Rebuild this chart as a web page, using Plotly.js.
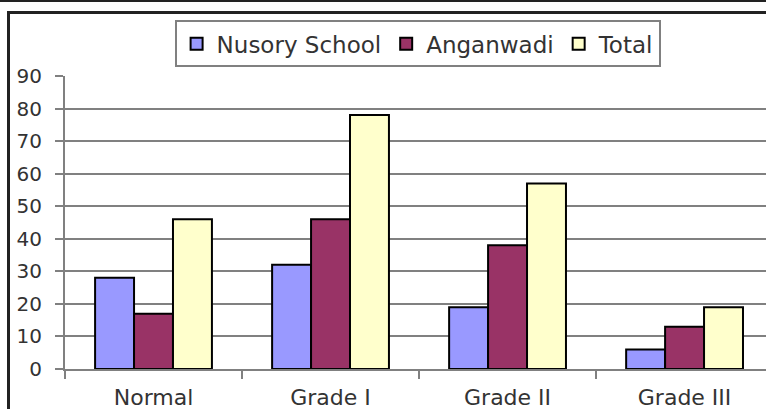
<!DOCTYPE html>
<html>
<head>
<meta charset="utf-8">
<script src="https://cdn.plot.ly/plotly-3.0.1.min.js"></script>
<style>
  html, body { margin: 0; padding: 0; background: #fff; }
  #wrap { position: relative; width: 766px; height: 409px; overflow: hidden; }
  #chart { position: absolute; left: 0; top: 0; width: 766px; height: 409px; }
  .topline { position: absolute; left: 0; top: 0; width: 766px; height: 2px; background: #222; pointer-events: none; }
  .frame { position: absolute; left: 7px; top: 11px; width: 770px; height: 410px; border-left: 3px solid #222; border-top: 3px solid #222; pointer-events: none; }
</style>
</head>
<body>
<div id="wrap">
  <div id="chart"></div>
  <div class="topline"></div>
  <div class="frame"></div>
</div>
<script>
const categories = ["Normal", "Grade I", "Grade II", "Grade III"];
const seriesNames = ["Nusory School", "Anganwadi", "Total"];
const nurserySchool = [28, 32, 19, 6];
const anganwadi = [17, 46, 38, 13];
const total = [46, 78, 57, 19];
const yTicks = [0, 10, 20, 30, 40, 50, 60, 70, 80, 90];

const colors = ["#9999FF", "#993366", "#FFFFCC"];
const seriesValues = [nurserySchool, anganwadi, total];

const traces = seriesValues.map((vals, i) => ({
  type: "bar",
  name: seriesNames[i],
  x: categories,
  y: vals,
  marker: { color: colors[i], line: { color: "#000", width: 2 } },
  hoverinfo: "x+y+name"
}));

const fam = "DejaVu Sans, Verdana, sans-serif";
const xFont = { family: fam, size: 22, color: "#333" };
const yFont = { family: fam, size: 20, color: "#333" };

const layout = {
  width: 766,
  height: 409,
  margin: { l: 65, r: 0, t: 76, b: 40 },
  paper_bgcolor: "#fff",
  plot_bgcolor: "#fff",
  font: xFont,
  barmode: "group",
  bargap: 0.34,
  bargroupgap: 0,
  showlegend: true,
  legend: {
    orientation: "h",
    x: 0.503, xanchor: "center",
    y: 1.19, yanchor: "top",
    bordercolor: "#808080", borderwidth: 2,
    bgcolor: "#fff",
    font: { family: fam, size: 23, color: "#333" },
    itemwidth: 30,
    traceorder: "normal"
  },
  xaxis: {
    type: "category",
    range: [-0.5, 3.46],
    showgrid: false,
    showline: true, linecolor: "#808080", linewidth: 2,
    ticks: "outside", ticklen: 8, tickcolor: "#808080", tickwidth: 2,
    tickson: "boundaries",
    ticklabelstandoff: 8,
    tickfont: xFont,
    fixedrange: true
  },
  yaxis: {
    range: [0, 90],
    tickvals: yTicks,
    ticktext: yTicks.map(String),
    showgrid: true, gridcolor: "#808080", gridwidth: 2,
    zeroline: false,
    showline: true, linecolor: "#808080", linewidth: 2,
    ticks: "outside", ticklen: 8, tickcolor: "#808080", tickwidth: 2,
    ticklabelstandoff: 9,
    tickfont: yFont,
    fixedrange: true
  }
};

Plotly.newPlot("chart", traces, layout, { displayModeBar: false, staticPlot: true });
</script>
</body>
</html>
